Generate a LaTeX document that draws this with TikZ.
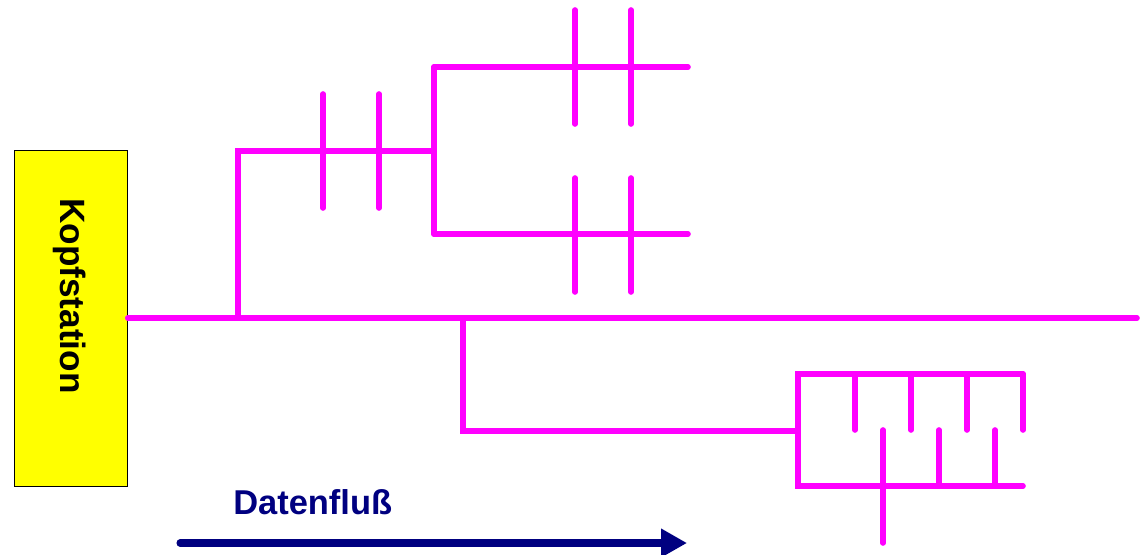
\documentclass[tikz,border=0pt]{standalone}
\usepackage{fontspec}
\setmainfont{Liberation Sans}
\usetikzlibrary{arrows.meta}

\definecolor{netz}{RGB}{255,0,255}
\definecolor{fluss}{RGB}{0,0,128}
\definecolor{kopfgelb}{RGB}{255,255,0}

\tikzset{
  kabel/.style={line width=4pt, netz, line cap=round, line join=miter},
  flusspfeil/.style={line width=5pt, fluss, line cap=round, -{Triangle[length=0.65cm, width=0.68cm]}}
}

\begin{document}
\begin{tikzpicture}[x=0.025cm, y=-0.025cm]

\useasboundingbox (0,0) rectangle (1143,554);

\node[draw=black, line width=0.7pt, fill=kopfgelb, minimum width=2.82cm, minimum height=8.4cm, anchor=north west] (kopf) at (14,150) {};
\node[rotate=-90, font=\fontsize{25}{29}\selectfont\bfseries] (kopftext) at (70,296) {Kopfstation};

% Hauptleitung
\coordinate (hauptende) at (1137,318);
\draw[kabel] (kopf.east |- hauptende) -- (hauptende);

% oberer Zweig
\draw[kabel] (238,318) -- (238,151) -- (434,151);
\draw[kabel] (434,67) -- (434,234);
\draw[kabel] (434,67) -- (688,67);
\draw[kabel] (434,234) -- (688,234);
\foreach \x in {323,379}
  \draw[kabel] (\x,94) -- (\x,208);
\foreach \x in {575,631} {
  \draw[kabel] (\x,10) -- (\x,124);
  \draw[kabel] (\x,178) -- (\x,292);
}

% unterer Zweig
\draw[kabel] (463,318) -- (463,431) -- (798,431);
\draw[kabel] (1023,374) -- (798,374) -- (798,486) -- (1023,486);
\foreach \x in {855,911,967,1023}
  \draw[kabel] (\x,374) -- (\x,430);
\foreach \x in {939,995}
  \draw[kabel] (\x,430) -- (\x,486);
\draw[kabel] (883,430) -- (883,543);

% Datenfluss
\node[anchor=south west, inner sep=0pt, fluss, font=\fontsize{24.5}{28}\selectfont\bfseries] (flusstext) at (233,515) {Datenfluß};
\coordinate (pfeilstart) at (180,543);
\coordinate (pfeilende) at (687,543);
\draw[flusspfeil] (pfeilstart) -- (pfeilende);

\end{tikzpicture}
\end{document}
